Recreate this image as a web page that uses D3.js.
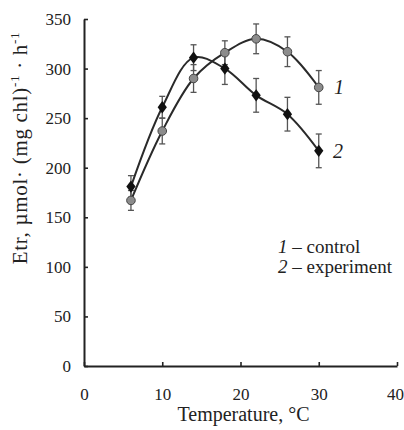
<!DOCTYPE html>
<html>
<head>
<meta charset="utf-8">
<script src="https://cdn.jsdelivr.net/npm/d3@7"></script>
<style>
  body { margin: 0; background: #fff; }
</style>
</head>
<body>
<div id="chart"></div>
<script>
'use strict';

// data
var temps = [6, 10, 14, 18, 22, 26, 30];
var control = [167, 237, 290, 316, 330, 317, 281];
var controlErr = [10, 13, 14, 12, 15, 15, 17];
var experiment = [181, 261, 311, 300, 273, 254, 217];
var experimentErr = [11, 11, 13, 16, 17, 17, 17];
var xTicks = [0, 10, 20, 30, 40];
var yTicks = [0, 50, 100, 150, 200, 250, 300, 350];

var FONT = "Liberation Serif";
var W = 404, H = 430;
var m = { left: 84, right: 7, top: 19, bottom: 64 };

var svg = d3.select("#chart").append("svg")
    .attr("width", W)
    .attr("height", H)
    .attr("font-family", FONT);

var x = d3.scaleLinear().domain([0, 40]).range([m.left, W - m.right]);
var y = d3.scaleLinear().domain([0, 350]).range([H - m.bottom, m.top]);

function series(vals, errs) {
    return temps.map(function(t, i) { return { t: t, v: vals[i], e: errs[i] }; });
}
var ctrl = series(control, controlErr);
var expt = series(experiment, experimentErr);

// axes
var yAxis = svg.append("g")
    .attr("transform", "translate(" + x(0) + ",0)")
    .call(d3.axisLeft(y).tickValues(yTicks).tickSizeInner(-4).tickSizeOuter(0).tickPadding(13));
var xAxis = svg.append("g")
    .attr("transform", "translate(0," + y(0) + ")")
    .call(d3.axisBottom(x).tickValues(xTicks).tickSizeInner(-4).tickSizeOuter(0).tickPadding(22));

[xAxis, yAxis].forEach(function(a) {
    a.attr("font-family", FONT);
    a.select(".domain").attr("stroke", "#222").attr("stroke-width", 2);
    a.selectAll(".tick line").attr("stroke", "#222").attr("stroke-width", 1.6);
    a.selectAll(".tick text").attr("font-size", 17).attr("font-family", FONT).attr("fill", "#222");
});
// keep the last x label inside the window
xAxis.selectAll(".tick text").filter(function(d) { return d === 40; }).attr("dx", -2);

// titles
svg.append("text")
    .attr("x", x(20) + 3)
    .attr("y", 421)
    .attr("text-anchor", "middle")
    .attr("font-size", 20)
    .attr("fill", "#222")
    .text("Temperature, \u00B0C");

var yl = svg.append("text")
    .attr("transform", "translate(27," + 148 + ") rotate(-90)")
    .attr("text-anchor", "middle")
    .attr("font-size", 21)
    .attr("letter-spacing", 0.7)
    .attr("fill", "#222");
yl.append("tspan").text("Etr, \u00B5mol\u00B7 (mg  chl)");
yl.append("tspan").attr("dy", -8).attr("font-size", 13).text("-1");
yl.append("tspan").attr("dy", 8).text(" \u00B7 h");
yl.append("tspan").attr("dy", -8).attr("font-size", 13).text("-1");

// lines
var line = d3.line()
    .x(function(d) { return x(d.t); })
    .y(function(d) { return y(d.v); })
    .curve(d3.curveCatmullRom.alpha(0.5));

[ctrl, expt].forEach(function(s) {
    svg.append("path")
        .datum(s)
        .attr("fill", "none")
        .attr("stroke", "#2a2a2a")
        .attr("stroke-width", 2)
        .attr("d", line);
});

// error bars
function errBars(s) {
    var g = svg.append("g").attr("stroke", "#555").attr("stroke-width", 1.3);
    g.selectAll("line.v").data(s).enter().append("line")
        .attr("x1", function(d) { return x(d.t); })
        .attr("x2", function(d) { return x(d.t); })
        .attr("y1", function(d) { return y(d.v - d.e); })
        .attr("y2", function(d) { return y(d.v + d.e); });
    [-1, 1].forEach(function(sg) {
        g.selectAll("line.c" + sg).data(s).enter().append("line")
            .attr("x1", function(d) { return x(d.t) - 3; })
            .attr("x2", function(d) { return x(d.t) + 3; })
            .attr("y1", function(d) { return y(d.v + sg * d.e); })
            .attr("y2", function(d) { return y(d.v + sg * d.e); });
    });
}
errBars(ctrl);
errBars(expt);

// markers
svg.append("g").selectAll("circle").data(ctrl).enter().append("circle")
    .attr("cx", function(d) { return x(d.t); })
    .attr("cy", function(d) { return y(d.v); })
    .attr("r", 4.3)
    .attr("fill", "#8c8c8c")
    .attr("stroke", "#444")
    .attr("stroke-width", 1);

var diamond = d3.symbol().type(d3.symbolDiamond).size(44);
svg.append("g").selectAll("path").data(expt).enter().append("path")
    .attr("transform", function(d) { return "translate(" + x(d.t) + "," + y(d.v) + ") scale(1.3,1)"; })
    .attr("d", diamond)
    .attr("fill", "#111");

// curve labels
svg.append("text").attr("x", 334).attr("y", 94).attr("fill", "#222")
    .attr("font-size", 20).attr("font-style", "italic").text("1");
svg.append("text").attr("x", 333).attr("y", 158).attr("fill", "#222")
    .attr("font-size", 20).attr("font-style", "italic").text("2");

// legend
var leg = [["1", " \u2013 control"], ["2", " \u2013 experiment"]];
leg.forEach(function(l, i) {
    var t = svg.append("text")
        .attr("x", 278)
        .attr("y", 253 + i * 20)
        .attr("font-size", 19)
        .attr("fill", "#222");
    t.append("tspan").attr("font-style", "italic").text(l[0]);
    t.append("tspan").text(l[1]);
});
</script>
</body>
</html>
